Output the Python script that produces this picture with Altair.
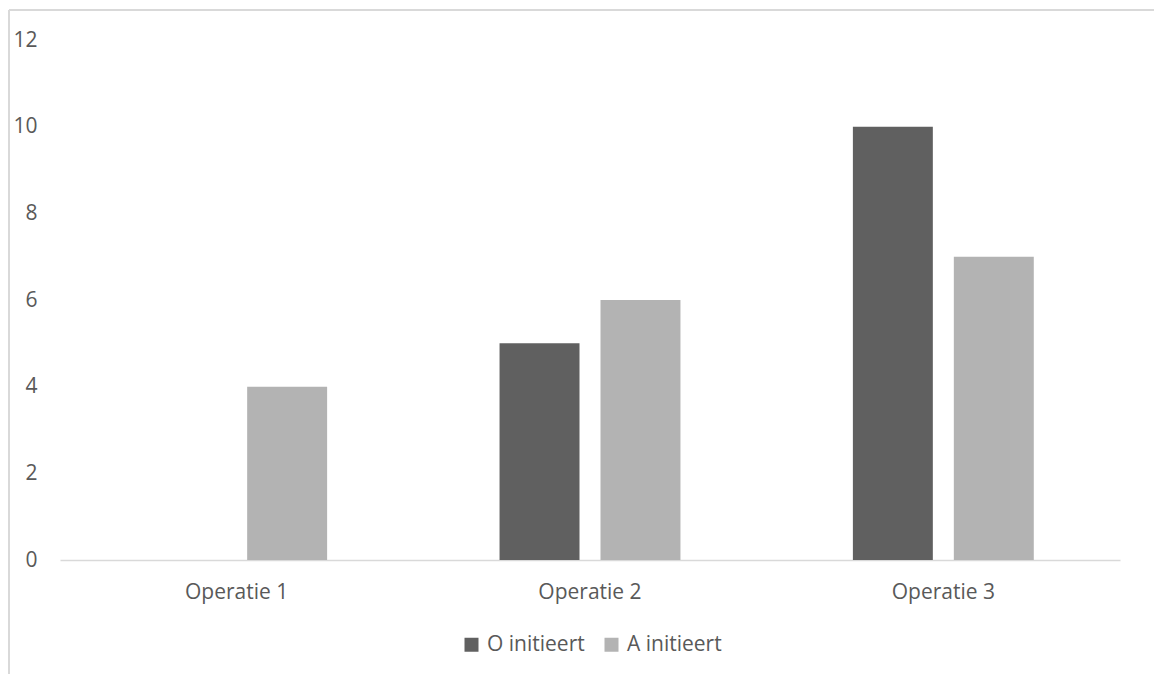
import altair as alt
import pandas as pd

categories = ["Operatie 1", "Operatie 2", "Operatie 3"]
series = ["O initieert", "A initieert"]
o_values = [0, 5, 10]
a_values = [4, 6, 7]
y_ticks = [0, 2, 4, 6, 8, 10, 12]
colors = ["#606060", "#b3b3b3"]

rows = []
for c, o, a in zip(categories, o_values, a_values):
    rows.append({"cat": c, "serie": series[0], "val": o})
    rows.append({"cat": c, "serie": series[1], "val": a})
df = pd.DataFrame(rows)

FONT = "Open Sans"
TXT = "#595959"
FS = 21

bars = alt.Chart(df).mark_bar().encode(
    x=alt.X("cat:N", sort=categories,
            scale=alt.Scale(paddingInner=0.488, paddingOuter=0.244),
            axis=alt.Axis(title=None, labelAngle=0, ticks=False, domain=True,
                          domainColor="#d9d9d9", domainWidth=1.5,
                          labelFont=FONT, labelFontSize=FS, labelColor=TXT,
                          labelPadding=21)),
    xOffset=alt.XOffset("serie:N", sort=series,
                        scale=alt.Scale(paddingInner=0.208, paddingOuter=0)),
    y=alt.Y("val:Q", scale=alt.Scale(domain=[0, 12], nice=False),
            axis=alt.Axis(title=None, values=y_ticks, grid=False, ticks=False,
                          domain=False, labelFont=FONT, labelFontSize=FS,
                          labelColor=TXT, labelPadding=23)),
    color=alt.Color("serie:N", sort=series,
                    scale=alt.Scale(domain=series, range=colors),
                    legend=alt.Legend(title=None, orient="none", direction="horizontal",
                                      legendX=401, legendY=594,
                                      symbolType="square", symbolSize=196,
                                      symbolStrokeWidth=0, symbolOpacity=1,
                                      labelFont=FONT, labelFontSize=FS,
                                      labelColor=TXT, labelOffset=5,
                                      columnPadding=16)),
)

left_border = alt.Chart(df).mark_rule(color="#d9d9d9", strokeWidth=2).encode(
    x=alt.value(-51), y=alt.value(-30), y2=alt.value(700))
top_border = alt.Chart(df).mark_rule(color="#d9d9d9", strokeWidth=2).encode(
    x=alt.value(-51), x2=alt.value(1200), y=alt.value(-30))

chart = alt.layer(left_border, top_border, bars).properties(
    width=1060, height=520,
    autosize=alt.AutoSizeParams(type="none"),
    padding={"left": 60, "top": 40, "right": 34, "bottom": 114},
).configure_view(stroke=None)

chart.save("out.html", embed_options={"renderer": "svg", "actions": False})
